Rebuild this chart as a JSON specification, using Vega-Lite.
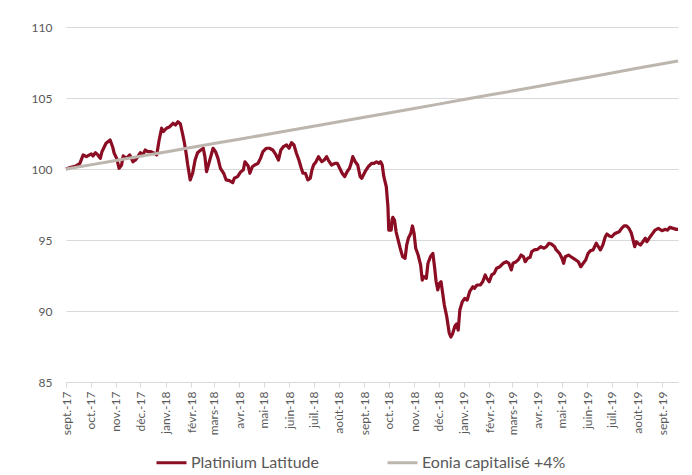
{
  "$schema": "https://vega.github.io/schema/vega-lite/v6.json",
  "width": 612,
  "height": 355,
  "autosize": {"type": "none"},
  "padding": {"left": 66, "top": 27, "right": 14, "bottom": 93},
  "background": "#ffffff",
  "config": {
    "view": {"stroke": null},
    "font": "Lato",
    "axis": {"labelFont": "Lato", "labelColor": "#595959", "labelFontSize": 12}
  },
  "encoding": {
    "x": {
      "field": "d", "type": "temporal",
      "scale": {"type": "utc", "domain": ["2017-09-01", "2019-09-20"]},
      "axis": {
        "title": null, "grid": false, "labelAngle": -90, "labelPadding": 4,
        "domainColor": "#d9d9d9", "tickColor": "#d9d9d9", "tickSize": 5,
        "tickCount": {"interval": "month", "step": 1},
        "labelExpr": "['janv.','févr.','mars','avr.','mai','juin','juil.','août','sept.','oct.','nov.','déc.'][utcmonth(datum.value)] + '-' + utcFormat(datum.value, '%y')"
      }
    },
    "y": {
      "field": "v", "type": "quantitative",
      "scale": {"domain": [85, 110], "nice": false, "zero": false},
      "axis": {"title": null, "values": [85, 90, 95, 100, 105, 110], "domain": false, "ticks": false, "gridColor": "#d9d9d9", "labelPadding": 14}
    }
  },
  "layer": [
    {
      "data": {"values": [
        {"d":"2017-09-01","v":100.0},{"d":"2017-09-07","v":100.12},{"d":"2017-09-13","v":100.21},{"d":"2017-09-18","v":100.4},{"d":"2017-09-22","v":100.99},{"d":"2017-09-26","v":100.87},
        {"d":"2017-10-02","v":101.06},{"d":"2017-10-04","v":100.92},{"d":"2017-10-07","v":101.15},{"d":"2017-10-10","v":100.99},{"d":"2017-10-13","v":100.75},{"d":"2017-10-15","v":101.22},{"d":"2017-10-20","v":101.81},{"d":"2017-10-25","v":102.04},{"d":"2017-10-28","v":101.57},{"d":"2017-10-30","v":101.11},
        {"d":"2017-11-02","v":100.75},{"d":"2017-11-05","v":100.05},{"d":"2017-11-08","v":100.28},{"d":"2017-11-10","v":100.92},{"d":"2017-11-14","v":100.75},{"d":"2017-11-18","v":100.99},{"d":"2017-11-22","v":100.51},{"d":"2017-11-25","v":100.63},{"d":"2017-11-28","v":100.87},
        {"d":"2017-12-01","v":101.15},{"d":"2017-12-04","v":100.99},{"d":"2017-12-07","v":101.34},{"d":"2017-12-10","v":101.22},{"d":"2017-12-14","v":101.22},{"d":"2017-12-18","v":101.11},{"d":"2017-12-21","v":100.99},{"d":"2017-12-24","v":102.04},{"d":"2017-12-27","v":102.87},{"d":"2017-12-29","v":102.63},
        {"d":"2018-01-02","v":102.87},{"d":"2018-01-06","v":102.98},{"d":"2018-01-10","v":103.22},{"d":"2018-01-13","v":103.1},{"d":"2018-01-16","v":103.33},{"d":"2018-01-19","v":103.17},{"d":"2018-01-22","v":102.39},{"d":"2018-01-24","v":101.81},{"d":"2018-01-26","v":101.11},{"d":"2018-01-28","v":100.28},{"d":"2018-01-31","v":99.23},
        {"d":"2018-02-03","v":99.7},{"d":"2018-02-06","v":100.63},{"d":"2018-02-09","v":101.15},{"d":"2018-02-13","v":101.34},{"d":"2018-02-16","v":101.46},{"d":"2018-02-18","v":100.87},{"d":"2018-02-20","v":99.81},{"d":"2018-02-24","v":100.63},{"d":"2018-02-28","v":101.46},
        {"d":"2018-03-03","v":101.22},{"d":"2018-03-06","v":100.75},{"d":"2018-03-09","v":100.05},{"d":"2018-03-13","v":99.7},{"d":"2018-03-16","v":99.23},{"d":"2018-03-20","v":99.18},{"d":"2018-03-24","v":99.04},{"d":"2018-03-26","v":99.35},{"d":"2018-03-30","v":99.46},
        {"d":"2018-04-03","v":99.81},{"d":"2018-04-06","v":99.93},{"d":"2018-04-08","v":100.51},{"d":"2018-04-12","v":100.21},{"d":"2018-04-14","v":99.7},{"d":"2018-04-17","v":100.16},{"d":"2018-04-20","v":100.28},{"d":"2018-04-24","v":100.4},{"d":"2018-04-27","v":100.75},{"d":"2018-04-30","v":101.22},
        {"d":"2018-05-04","v":101.46},{"d":"2018-05-08","v":101.46},{"d":"2018-05-12","v":101.34},{"d":"2018-05-16","v":100.99},{"d":"2018-05-19","v":100.63},{"d":"2018-05-22","v":101.34},{"d":"2018-05-25","v":101.57},{"d":"2018-05-29","v":101.69},
        {"d":"2018-06-01","v":101.46},{"d":"2018-06-04","v":101.85},{"d":"2018-06-07","v":101.69},{"d":"2018-06-10","v":101.11},{"d":"2018-06-13","v":100.63},{"d":"2018-06-16","v":100.05},{"d":"2018-06-18","v":99.7},{"d":"2018-06-21","v":99.7},{"d":"2018-06-24","v":99.23},{"d":"2018-06-27","v":99.35},{"d":"2018-06-29","v":99.93},
        {"d":"2018-07-01","v":100.28},{"d":"2018-07-04","v":100.51},{"d":"2018-07-07","v":100.87},{"d":"2018-07-11","v":100.51},{"d":"2018-07-14","v":100.63},{"d":"2018-07-17","v":100.87},{"d":"2018-07-19","v":100.63},{"d":"2018-07-23","v":100.28},{"d":"2018-07-27","v":100.4},{"d":"2018-07-30","v":100.4},
        {"d":"2018-08-02","v":100.05},{"d":"2018-08-05","v":99.7},{"d":"2018-08-08","v":99.46},{"d":"2018-08-11","v":99.81},{"d":"2018-08-14","v":100.05},{"d":"2018-08-16","v":100.4},{"d":"2018-08-18","v":100.87},{"d":"2018-08-21","v":100.51},{"d":"2018-08-24","v":100.28},{"d":"2018-08-27","v":99.46},{"d":"2018-08-29","v":99.35},
        {"d":"2018-09-02","v":99.81},{"d":"2018-09-06","v":100.16},{"d":"2018-09-10","v":100.4},{"d":"2018-09-13","v":100.4},{"d":"2018-09-16","v":100.51},{"d":"2018-09-19","v":100.4},{"d":"2018-09-21","v":100.51},{"d":"2018-09-23","v":100.28},{"d":"2018-09-25","v":99.46},{"d":"2018-09-28","v":98.75},{"d":"2018-09-30","v":97.35},
        {"d":"2018-10-01","v":95.7},{"d":"2018-10-04","v":95.7},{"d":"2018-10-05","v":96.41},{"d":"2018-10-06","v":96.6},{"d":"2018-10-08","v":96.41},{"d":"2018-10-10","v":95.58},{"d":"2018-10-12","v":95.12},{"d":"2018-10-15","v":94.42},{"d":"2018-10-18","v":93.82},{"d":"2018-10-21","v":93.71},{"d":"2018-10-23","v":94.65},{"d":"2018-10-25","v":95.12},{"d":"2018-10-28","v":95.47},{"d":"2018-10-30","v":95.99},
        {"d":"2018-11-01","v":95.47},{"d":"2018-11-03","v":94.42},{"d":"2018-11-06","v":93.94},{"d":"2018-11-09","v":93.24},{"d":"2018-11-11","v":92.18},{"d":"2018-11-13","v":92.42},{"d":"2018-11-16","v":92.3},{"d":"2018-11-18","v":93.36},{"d":"2018-11-21","v":93.82},{"d":"2018-11-24","v":94.06},{"d":"2018-11-26","v":93.12},{"d":"2018-11-28","v":92.06},{"d":"2018-11-30","v":91.48},
        {"d":"2018-12-02","v":91.95},{"d":"2018-12-04","v":92.06},{"d":"2018-12-06","v":91.25},{"d":"2018-12-08","v":90.42},{"d":"2018-12-11","v":89.6},{"d":"2018-12-14","v":88.45},{"d":"2018-12-16","v":88.17},{"d":"2018-12-18","v":88.38},{"d":"2018-12-21","v":88.94},{"d":"2018-12-23","v":89.08},{"d":"2018-12-25","v":88.66},{"d":"2018-12-27","v":90.07},{"d":"2018-12-30","v":90.65},
        {"d":"2019-01-02","v":90.89},{"d":"2019-01-05","v":90.77},{"d":"2019-01-08","v":91.36},{"d":"2019-01-12","v":91.71},{"d":"2019-01-14","v":91.6},{"d":"2019-01-17","v":91.83},{"d":"2019-01-21","v":91.83},{"d":"2019-01-24","v":92.06},{"d":"2019-01-27","v":92.54},{"d":"2019-01-29","v":92.3},
        {"d":"2019-02-01","v":92.06},{"d":"2019-02-04","v":92.54},{"d":"2019-02-07","v":92.65},{"d":"2019-02-10","v":93.01},{"d":"2019-02-14","v":93.12},{"d":"2019-02-18","v":93.36},{"d":"2019-02-22","v":93.47},{"d":"2019-02-25","v":93.36},{"d":"2019-02-28","v":92.89},
        {"d":"2019-03-02","v":93.36},{"d":"2019-03-06","v":93.47},{"d":"2019-03-09","v":93.64},{"d":"2019-03-12","v":93.94},{"d":"2019-03-15","v":93.82},{"d":"2019-03-17","v":93.47},{"d":"2019-03-20","v":93.71},{"d":"2019-03-23","v":93.78},{"d":"2019-03-25","v":94.18},{"d":"2019-03-28","v":94.3},
        {"d":"2019-04-01","v":94.34},{"d":"2019-04-05","v":94.53},{"d":"2019-04-09","v":94.42},{"d":"2019-04-12","v":94.53},{"d":"2019-04-15","v":94.77},{"d":"2019-04-18","v":94.72},{"d":"2019-04-22","v":94.53},{"d":"2019-04-24","v":94.3},{"d":"2019-04-28","v":94.06},
        {"d":"2019-05-01","v":93.71},{"d":"2019-05-03","v":93.36},{"d":"2019-05-05","v":93.82},{"d":"2019-05-09","v":93.94},{"d":"2019-05-12","v":93.82},{"d":"2019-05-15","v":93.71},{"d":"2019-05-18","v":93.59},{"d":"2019-05-21","v":93.47},{"d":"2019-05-24","v":93.12},{"d":"2019-05-27","v":93.36},{"d":"2019-05-30","v":93.59},
        {"d":"2019-06-02","v":94.06},{"d":"2019-06-05","v":94.25},{"d":"2019-06-08","v":94.3},{"d":"2019-06-12","v":94.77},{"d":"2019-06-14","v":94.58},{"d":"2019-06-17","v":94.3},{"d":"2019-06-20","v":94.65},{"d":"2019-06-23","v":95.23},{"d":"2019-06-25","v":95.42},{"d":"2019-06-28","v":95.28},
        {"d":"2019-07-01","v":95.23},{"d":"2019-07-04","v":95.42},{"d":"2019-07-07","v":95.51},{"d":"2019-07-10","v":95.58},{"d":"2019-07-13","v":95.82},{"d":"2019-07-16","v":95.99},{"d":"2019-07-19","v":95.99},{"d":"2019-07-22","v":95.82},{"d":"2019-07-25","v":95.47},{"d":"2019-07-27","v":95.0},{"d":"2019-07-29","v":94.53},{"d":"2019-07-31","v":94.88},
        {"d":"2019-08-02","v":94.77},{"d":"2019-08-05","v":94.65},{"d":"2019-08-08","v":94.88},{"d":"2019-08-11","v":95.12},{"d":"2019-08-13","v":94.88},{"d":"2019-08-17","v":95.23},{"d":"2019-08-20","v":95.47},{"d":"2019-08-23","v":95.7},{"d":"2019-08-27","v":95.82},{"d":"2019-08-30","v":95.7},
        {"d":"2019-09-01","v":95.66},{"d":"2019-09-04","v":95.75},{"d":"2019-09-07","v":95.7},{"d":"2019-09-10","v":95.89},{"d":"2019-09-14","v":95.82},{"d":"2019-09-18","v":95.75},{"d":"2019-09-20","v":95.75}
      ]},
      "mark": {"type": "line", "strokeWidth": 3.2, "strokeJoin": "round"},
      "encoding": {
        "color": {
          "datum": "Platinium Latitude",
          "scale": {"domain": ["Platinium Latitude", "Eonia capitalisé +4%"], "range": ["#8B0D23", "#BDB6AE"]},
          "legend": {
            "title": null, "orient": "none", "legendX": 89, "legendY": 419, "direction": "horizontal",
            "symbolType": "stroke", "symbolSize": 900, "symbolStrokeWidth": 3, "labelFontSize": 16,
            "labelColor": "#595959", "labelFont": "Lato", "labelOffset": 3, "columnPadding": 62, "padding": 0
          }
        }
      }
    },
    {
      "data": {"values": [
        {"d":"2017-09-01","v":100.0},{"d":"2017-10-01","v":100.29},{"d":"2017-11-01","v":100.6},{"d":"2017-12-01","v":100.9},
        {"d":"2018-01-01","v":101.2},{"d":"2018-02-01","v":101.51},{"d":"2018-03-01","v":101.79},{"d":"2018-04-01","v":102.1},
        {"d":"2018-05-01","v":102.4},{"d":"2018-06-01","v":102.71},{"d":"2018-07-01","v":103.01},{"d":"2018-08-01","v":103.33},
        {"d":"2018-09-01","v":103.64},{"d":"2018-10-01","v":103.94},{"d":"2018-11-01","v":104.26},{"d":"2018-12-01","v":104.57},
        {"d":"2019-01-01","v":104.89},{"d":"2019-02-01","v":105.21},{"d":"2019-03-01","v":105.49},{"d":"2019-04-01","v":105.81},
        {"d":"2019-05-01","v":106.13},{"d":"2019-06-01","v":106.45},{"d":"2019-07-01","v":106.76},{"d":"2019-08-01","v":107.09},
        {"d":"2019-09-01","v":107.41},{"d":"2019-09-20","v":107.61}
      ]},
      "mark": {"type": "line", "strokeWidth": 3},
      "encoding": {"color": {"datum": "Eonia capitalisé +4%"}}
    }
  ]
}
